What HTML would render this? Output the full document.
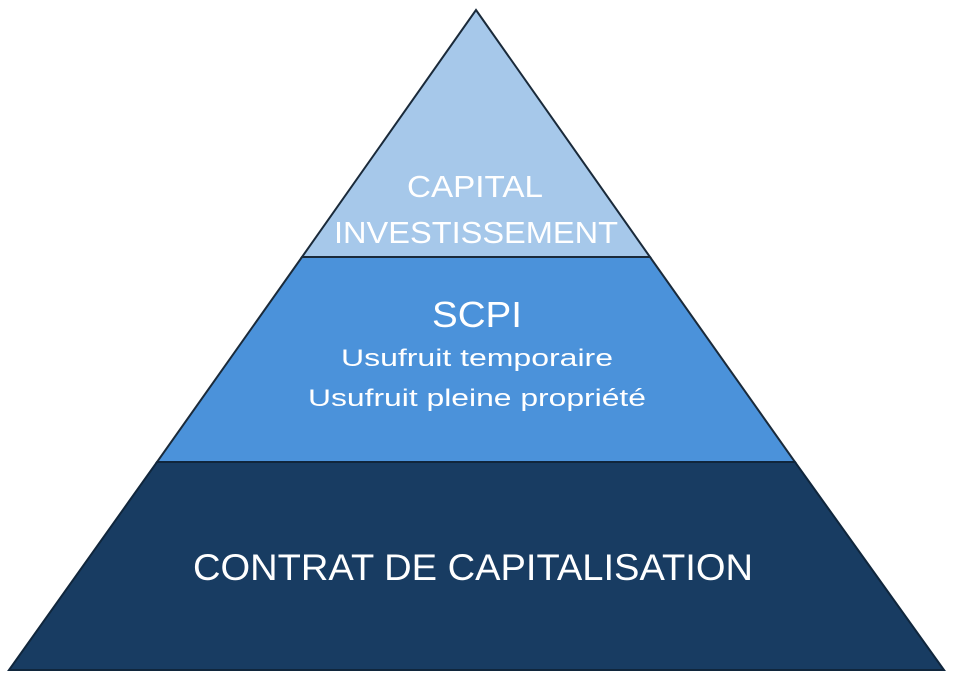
<!DOCTYPE html>
<html><head><meta charset="utf-8"><style>html,body{margin:0;padding:0;background:#fff}svg{display:block}</style></head>
<body>
<svg width="956" height="684" viewBox="0 0 956 684" xmlns="http://www.w3.org/2000/svg" font-family="Liberation Sans, sans-serif" fill="#fff">
<polygon points="476,10 650,257 302,257" fill="#a6c8ea" stroke="#1a2a3a" stroke-width="2"/>
<polygon points="302,257 650,257 795,462 157,462" fill="#4b92da" stroke="#1a2a3a" stroke-width="2"/>
<polygon points="157,462 795,462 944,670 9,670" fill="#183c62" stroke="#10263c" stroke-width="2"/>
<g text-anchor="middle">
<text x="475" y="197" font-size="31" textLength="136" lengthAdjust="spacingAndGlyphs">CAPITAL</text>
<text x="476" y="243" font-size="31" textLength="284" lengthAdjust="spacingAndGlyphs">INVESTISSEMENT</text>
<text x="477" y="327" font-size="36" textLength="90" lengthAdjust="spacingAndGlyphs">SCPI</text>
<text x="477" y="366" font-size="24" textLength="272" lengthAdjust="spacingAndGlyphs">Usufruit temporaire</text>
<text x="477" y="406" font-size="24" textLength="338" lengthAdjust="spacingAndGlyphs">Usufruit pleine propriété</text>
<text x="473" y="580" font-size="37" textLength="560" lengthAdjust="spacingAndGlyphs">CONTRAT DE CAPITALISATION</text>
</g>
</svg>
</body></html>
